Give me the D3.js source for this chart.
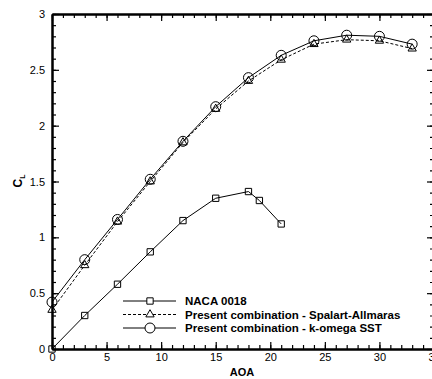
<!DOCTYPE html>
<html>
<head>
<meta charset="utf-8">
<script src="https://cdn.jsdelivr.net/npm/d3@7"></script>
<style>
  body { margin: 0; background: #fff; }
  text { font-family: "Liberation Sans", Arial, sans-serif; }
</style>
</head>
<body>
<div id="chart"></div>
<script>
// Data
const nacaAoa = [0, 3, 6, 9, 12, 15, 18, 19, 21];
const nacaCl = [0, 0.30, 0.58, 0.87, 1.15, 1.35, 1.41, 1.33, 1.12];

const presentAoa = [0, 3, 6, 9, 12, 15, 18, 21, 24, 27, 30, 33];
const saCl = [0.35, 0.75, 1.14, 1.50, 1.85, 2.15, 2.40, 2.59, 2.73, 2.77, 2.76, 2.69];
const sstCl = [0.42, 0.80, 1.16, 1.52, 1.86, 2.17, 2.43, 2.63, 2.76, 2.81, 2.80, 2.73];

const seriesNames = ["NACA 0018", "Present combination - Spalart-Allmaras", "Present combination - k-omega SST"];
const xTicks = [0, 5, 10, 15, 20, 25, 30, 35];
const yTicks = [0, 0.5, 1, 1.5, 2, 2.5, 3];

// SVG area
const svgWidth = 432;
const svgHeight = 379;
const margin = { top: 14, right: -2, bottom: 30, left: 52 };
const width = svgWidth - margin.left - margin.right;
const height = svgHeight - margin.top - margin.bottom;

const svg = d3.select("#chart")
    .append("svg")
    .attr("width", svgWidth)
    .attr("height", svgHeight);

const chartGroup = svg.append("g")
    .attr("transform", `translate(${margin.left}, ${margin.top})`);

// Scales
const x = d3.scaleLinear().domain([0, 35]).range([0, width]);
const y = d3.scaleLinear().domain([0, 3]).range([height, 0]);

const xMinor = d3.range(0, 36, 1);
const yMinor = d3.range(0, 31, 1).map(d => d / 10);

// Axes: ticks pointing inwards, minor + major
function addAxis(axisFn, scale, minor, major, transform, showLabels) {
    const g1 = chartGroup.append("g").attr("transform", transform)
        .call(axisFn(scale).tickValues(minor).tickSizeInner(-4).tickSizeOuter(0).tickFormat(""));
    const g2 = chartGroup.append("g").attr("transform", transform)
        .call(axisFn(scale).tickValues(major).tickSizeInner(-7).tickSizeOuter(0)
            .tickFormat(showLabels ? d3.format("") : ""));
    [g1, g2].forEach(g => {
        g.select(".domain").attr("stroke-width", 2).attr("stroke", "#000");
        g.selectAll(".tick line").attr("stroke", "#000").attr("stroke-width", 1.2);
    });
    g2.selectAll(".tick text").attr("font-size", 11).attr("fill", "#000")
        .attr("font-family", "Liberation Sans, Arial, sans-serif");
    return g2;
}

const bottom = addAxis(d3.axisBottom, x, xMinor, xTicks, `translate(0, ${height})`, true);
bottom.selectAll(".tick text").attr("y", 4);
const left = addAxis(d3.axisLeft, y, yMinor, yTicks, "translate(0, 0)", true);
left.selectAll(".tick text").attr("x", -7);
addAxis(d3.axisTop, x, xMinor, xTicks, "translate(0, 0)", false);
addAxis(d3.axisRight, y, yMinor, yTicks, `translate(${width}, 0)`, false);

// Lines
const line = (xs, ys) => d3.line().x((d, i) => x(xs[i])).y(d => y(d))(ys);

chartGroup.append("path").attr("d", line(nacaAoa, nacaCl))
    .attr("fill", "none").attr("stroke", "#000").attr("stroke-width", 1);
chartGroup.append("path").attr("d", line(presentAoa, saCl))
    .attr("fill", "none").attr("stroke", "#000").attr("stroke-width", 1)
    .attr("stroke-dasharray", "3,2");
chartGroup.append("path").attr("d", line(presentAoa, sstCl))
    .attr("fill", "none").attr("stroke", "#000").attr("stroke-width", 1);

// Markers
const squareSym = d3.symbol().type(d3.symbolSquare).size(40);
const triSym = d3.symbol().type(d3.symbolTriangle).size(30);

chartGroup.selectAll(".sq")
    .data(nacaCl)
    .enter()
    .append("path")
    .attr("class", "sq")
    .attr("d", squareSym)
    .attr("transform", (d, i) => `translate(${x(nacaAoa[i])}, ${y(d)})`)
    .attr("fill", "none").attr("stroke", "#000").attr("stroke-width", 1);

chartGroup.selectAll(".tri")
    .data(saCl)
    .enter()
    .append("path")
    .attr("class", "tri")
    .attr("d", triSym)
    .attr("transform", (d, i) => `translate(${x(presentAoa[i])}, ${y(d)})`)
    .attr("fill", "none").attr("stroke", "#000").attr("stroke-width", 1);

chartGroup.selectAll(".circ")
    .data(sstCl)
    .enter()
    .append("circle")
    .attr("class", "circ")
    .attr("cx", (d, i) => x(presentAoa[i]))
    .attr("cy", d => y(d))
    .attr("r", 5)
    .attr("fill", "none").attr("stroke", "#000").attr("stroke-width", 1);

// Legend
const legend = svg.append("g").attr("transform", "translate(123, 301)");
seriesNames.forEach((name, i) => {
    const row = legend.append("g").attr("transform", `translate(0, ${i * 13.5})`);
    row.append("line").attr("x1", 0).attr("x2", 53).attr("y1", 0).attr("y2", 0)
        .attr("stroke", "#000").attr("stroke-width", 1)
        .attr("stroke-dasharray", i === 1 ? "3,2" : null);
    if (i === 0) {
        row.append("path").attr("d", squareSym).attr("transform", "translate(27, 0)")
            .attr("fill", "#fff").attr("stroke", "#000");
    } else if (i === 1) {
        row.append("path").attr("d", triSym).attr("transform", "translate(27, 0)")
            .attr("fill", "#fff").attr("stroke", "#000");
    } else {
        row.append("circle").attr("cx", 27).attr("cy", 0).attr("r", 5)
            .attr("fill", "#fff").attr("stroke", "#000");
    }
    row.append("text").attr("x", 62).attr("y", 4)
        .attr("font-size", 11.5).attr("font-weight", "bold").text(name);
});

// Axis labels
svg.append("text")
    .attr("x", 242).attr("y", 376)
    .attr("text-anchor", "middle")
    .attr("font-size", 11).attr("font-weight", "bold")
    .text("AOA");

const yLabel = svg.append("text")
    .attr("transform", "translate(22, 181) rotate(-90)")
    .attr("text-anchor", "middle")
    .attr("font-size", 12).attr("font-weight", "bold");
yLabel.append("tspan").text("C");
yLabel.append("tspan").attr("font-size", 7).attr("dy", 3).text("L");
</script>
</body>
</html>
